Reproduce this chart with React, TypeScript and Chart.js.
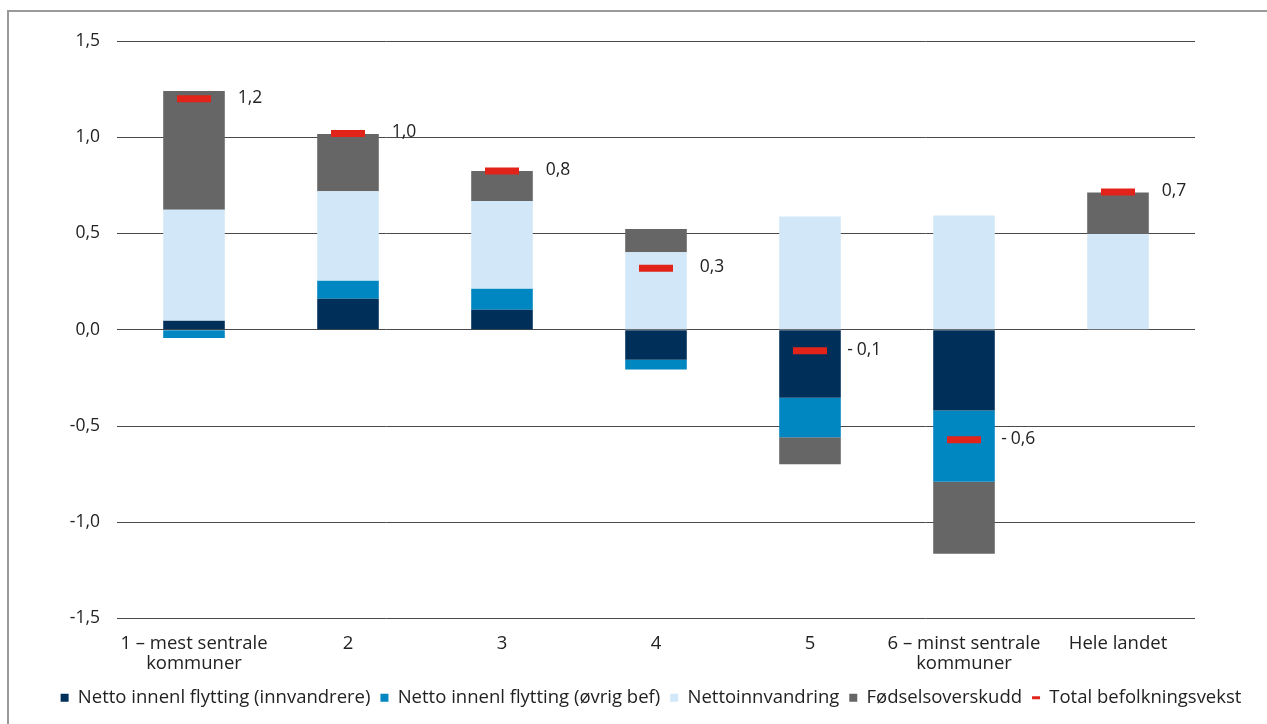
import React, { useEffect, useRef } from "react";
import { Chart, registerables } from "chart.js";

Chart.register(...registerables);

const categories: (string | string[])[] = [
  ["1 – mest sentrale", "kommuner"],
  "2",
  "3",
  "4",
  "5",
  ["6 – minst sentrale", "kommuner"],
  "Hele landet",
];
const innvandrere = [0.047, 0.161, 0.104, -0.156, -0.353, -0.419, 0];
const ovrigBef = [-0.043, 0.093, 0.109, -0.05, -0.206, -0.371, 0];
const nettoinnvandring = [0.576, 0.466, 0.456, 0.403, 0.588, 0.593, 0.497];
const fodselsoverskudd = [0.617, 0.297, 0.156, 0.121, -0.14, -0.374, 0.216];
const totalVekst = [1.2, 1.02, 0.825, 0.32, -0.109, -0.571, 0.716];
const totalLabels = ["1,2", "1,0", "0,8", "0,3", "-0,1", "-0,6", "0,7"];
const seriesNames = [
  "Netto innenl flytting (innvandrere)",
  "Netto innenl flytting (øvrig bef)",
  "Nettoinnvandring",
  "Fødselsoverskudd",
  "Total befolkningsvekst",
];

const FONT = "'Open Sans', 'Noto Sans', sans-serif";
const TEXT = "#222222";

const totalLabelPlugin = {
  id: "totalLabels",
  beforeDraw(chart: any) {
    const lg = chart.legend;
    if (lg) {
      // legend row is centred slightly right of the canvas centre
      lg.left = 35;
      lg.right = chart.width;
    }
  },
  afterDatasetsDraw(chart: any) {
    const ctx = chart.ctx;
    const barMeta = chart.getDatasetMeta(3);
    const lineMeta = chart.getDatasetMeta(4);
    ctx.save();
    ctx.font = `17.5px ${FONT}`;
    ctx.fillStyle = TEXT;
    ctx.textBaseline = "middle";
    totalLabels.forEach((txt, i) => {
      const bar = barMeta.data[i];
      const pt = lineMeta.data[i];
      if (!bar || !pt) return;
      const right = bar.x + bar.width / 2;
      const y = pt.y - 1;
      if (txt.startsWith("-")) {
        ctx.textAlign = "left";
        ctx.fillText(txt.slice(1), right + 16, y);
        ctx.textAlign = "right";
        ctx.fillText("-", right + 12, y);
      } else {
        ctx.textAlign = "left";
        ctx.fillText(txt, right + 13, y);
      }
    });
    ctx.restore();
  },
};

export default function App() {
  const ref = useRef<HTMLCanvasElement>(null);

  useEffect(() => {
    if (!ref.current) return;
    const chart = new Chart(ref.current, {
      type: "bar",
      data: {
        labels: categories,
        datasets: [
          { label: seriesNames[0], data: innvandrere, backgroundColor: "#00305a", stack: "s" },
          { label: seriesNames[1], data: ovrigBef, backgroundColor: "#0086c0", stack: "s" },
          { label: seriesNames[2], data: nettoinnvandring, backgroundColor: "#d2e8f8", stack: "s" },
          { label: seriesNames[3], data: fodselsoverskudd, backgroundColor: "#666666", stack: "s" },
          {
            type: "line",
            label: seriesNames[4],
            data: totalVekst,
            stack: "total",
            showLine: false,
            order: -1,
            pointStyle: "line",
            pointRadius: 17,
            pointHoverRadius: 17,
            pointBorderWidth: 7,
            pointHoverBorderWidth: 7,
            pointBorderColor: "#e2231a",
            pointBackgroundColor: "#e2231a",
            borderColor: "#e2231a",
            backgroundColor: "#e2231a",
          } as any,
        ],
      },
      options: {
        responsive: false,
        animation: false,
        events: [],
        layout: { padding: { left: 0, right: 0, top: 41, bottom: 7 } },
        datasets: {
          bar: { barPercentage: 0.4, categoryPercentage: 1, borderWidth: 0 },
        } as any,
        scales: {
          x: {
            stacked: true,
            grid: { display: false, drawTicks: false },
            border: { display: false },
            ticks: {
              color: TEXT,
              padding: 15,
              maxRotation: 0,
              autoSkip: false,
              font: { family: FONT, size: 18.5, lineHeight: 1.1 },
            },
            afterFit: (s: any) => {
              s.height = 60;
            },
          },
          y: {
            stacked: true,
            min: -1.5,
            max: 1.5,
            border: { display: false },
            grid: { color: "#4a4a4a", lineWidth: 1, drawTicks: false },
            ticks: {
              stepSize: 0.5,
              color: TEXT,
              padding: 17,
              font: { family: FONT, size: 17.5 },
              callback: (v: any) => Number(v).toFixed(1).replace(".", ","),
            },
            afterFit: (s: any) => {
              s.width = 117;
            },
          },
          yRightSpace: {
            position: "right",
            display: true,
            grid: { display: false, drawTicks: false },
            border: { display: false },
            ticks: { display: false },
            afterFit: (s: any) => {
              s.width = 72;
            },
          } as any,
        },
        plugins: {
          tooltip: { enabled: false },
          legend: {
            position: "bottom",
            labels: {
              usePointStyle: true,
              boxWidth: 8,
              boxHeight: 8,
              pointStyleWidth: 8,
              padding: 10,
              color: TEXT,
              font: { family: FONT, size: 18.5 },
              generateLabels: (c: any) =>
                c.data.datasets.map((ds: any, i: number) => {
                  const isLine = ds.type === "line";
                  const col = isLine ? ds.pointBorderColor : ds.backgroundColor;
                  return {
                    text: ds.label,
                    fillStyle: col,
                    strokeStyle: col,
                    lineWidth: isLine ? 3 : 0,
                    pointStyle: isLine ? "line" : "rect",
                    hidden: false,
                    datasetIndex: i,
                    fontColor: TEXT,
                  };
                }),
            },
          },
        },
      },
      plugins: [totalLabelPlugin],
    });
    return () => chart.destroy();
  }, []);

  return (
    <div
      style={{
        position: "fixed",
        left: 0,
        top: 0,
        width: 1267,
        height: 724,
        overflow: "hidden",
        background: "#ffffff",
      }}
    >
      <div
        style={{
          position: "absolute",
          left: 7,
          top: 10,
          width: 1300,
          height: 800,
          border: "2px solid #9a9a9a",
          boxSizing: "border-box",
        }}
      />
      <canvas
        ref={ref}
        width={1267}
        height={724}
        style={{ position: "absolute", left: 0, top: 0, width: 1267, height: 724 }}
      />
    </div>
  );
}
